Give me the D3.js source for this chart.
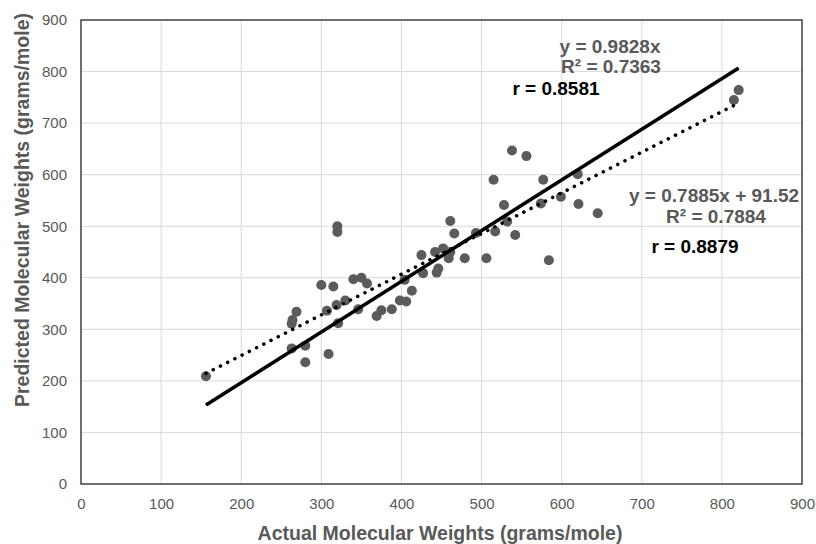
<!DOCTYPE html>
<html>
<head>
<meta charset="utf-8">
<script src="https://cdn.jsdelivr.net/npm/d3@7"></script>
<style>
  body { margin: 0; background: #fff; }
  svg { display: block; font-family: "Liberation Sans", Arial, sans-serif; }
</style>
</head>
<body>
<svg width="816" height="544"></svg>
<script>
// actual vs predicted molecular weights (grams/mole)
var actualMW = [156, 263, 264, 269, 263, 280, 280, 309, 307, 319, 321, 330, 300, 315,
                320, 320, 340, 350, 357, 346, 369, 375, 388, 398, 406, 413, 404, 425,
                442, 452, 461, 459, 479, 506, 584, 427, 446, 444, 466, 461, 493, 517,
                542, 532, 528, 515, 538, 556, 577, 574, 599, 620, 621, 645, 815, 821];
var predictedMW = [209, 311, 318, 334, 263, 268, 236, 252, 336, 347, 312, 356, 386, 383,
                   489, 500, 397, 400, 389, 339, 326, 337, 339, 356, 354, 375, 396, 444,
                   450, 457, 450, 438, 438, 438, 434, 409, 418, 410, 486, 510, 487, 490,
                   483, 509, 541, 590, 647, 636, 590, 544, 557, 601, 543, 525, 745, 764];

var xTicks = [0, 100, 200, 300, 400, 500, 600, 700, 800, 900];
var yTicks = [0, 100, 200, 300, 400, 500, 600, 700, 800, 900];

// trend lines: [slope, intercept]
var fitThroughZero = [0.9828, 0];
var fitLinear = [0.7885, 91.52];
var labelsZero = ['y = 0.9828x', 'R\u00b2 = 0.7363', 'r = 0.8581'];
var labelsLinear = ['y = 0.7885x + 91.52', 'R\u00b2 = 0.7884', 'r = 0.8879'];

var grey = '#595959';
// note: "top" is taken by window.top, so plot edges get their own names
var plotL = 81, plotR = 802, plotT = 20, plotB = 484;

var svg = d3.select('svg');

var x = d3.scaleLinear().domain([0, 900]).range([plotL, plotR]);
var y = d3.scaleLinear().domain([0, 900]).range([plotB, plotT]);

// gridlines
svg.append('g')
   .selectAll('line')
   .data(xTicks.slice(1, -1))
   .enter()
   .append('line')
      .attr('x1', function(d){return x(d)})
      .attr('x2', function(d){return x(d)})
      .attr('y1', plotT)
      .attr('y2', plotB)
      .style('stroke', '#d9d9d9')
      .style('stroke-width', 1);

svg.append('g')
   .selectAll('line')
   .data(yTicks.slice(1, -1))
   .enter()
   .append('line')
      .attr('x1', plotL)
      .attr('x2', plotR)
      .attr('y1', function(d){return y(d)})
      .attr('y2', function(d){return y(d)})
      .style('stroke', '#d9d9d9')
      .style('stroke-width', 1);

// axes (labels only, frame drawn later)
var xAxis = svg.append('g')
   .attr('transform', 'translate(0,' + plotB + ')')
   .call(d3.axisBottom(x).tickValues(xTicks).tickSize(0).tickPadding(14));
var yAxis = svg.append('g')
   .attr('transform', 'translate(' + plotL + ',0)')
   .call(d3.axisLeft(y).tickValues(yTicks).tickSize(0).tickPadding(14));

[xAxis, yAxis].forEach(function(a) {
   a.select('.domain').remove();
   a.selectAll('text')
      .style('font-family', '"Liberation Sans", Arial, sans-serif')
      .style('font-size', '15px')
      .style('fill', grey);
});

// points
svg.append('g')
   .selectAll('circle')
   .data(actualMW)
   .enter()
   .append('circle')
      .attr('cx', function(d){return x(d)})
      .attr('cy', function(d, i){return y(predictedMW[i])})
      .attr('r', 5)
      .style('fill', '#5b5b5b');

// trend lines over the data range
var ext = d3.extent(actualMW);
var line = d3.line()
   .x(function(d){return x(d[0])})
   .y(function(d){return y(d[1])});

function fitPoints(f) {
   return ext.map(function(v){return [v, f[0] * v + f[1]]});
}

svg.append('path')
   .datum(fitPoints(fitLinear))
   .attr('d', line)
   .style('fill', 'none')
   .style('stroke', '#000')
   .style('stroke-width', 3.5)
   .style('stroke-linecap', 'round')
   .style('stroke-dasharray', '0.1 8');

svg.append('path')
   .datum(fitPoints(fitThroughZero))
   .attr('d', line)
   .style('fill', 'none')
   .style('stroke', '#000')
   .style('stroke-width', 3.5);

// labels, clipped to the plot area like the original
svg.append('clipPath')
   .attr('id', 'plotclip')
   .append('rect')
      .attr('x', plotL)
      .attr('y', plotT)
      .attr('width', plotR - plotL)
      .attr('height', plotB - plotT);

var notes = svg.append('g')
   .attr('clip-path', 'url(#plotclip)')
   .style('font-size', '19px')
   .style('font-weight', 'bold');

notes.append('text').attr('x', 610).attr('y', 53).attr('text-anchor', 'middle')
   .style('fill', grey).text(labelsZero[0]);
notes.append('text').attr('x', 611).attr('y', 73).attr('text-anchor', 'middle')
   .style('fill', grey).text(labelsZero[1]);
notes.append('text').attr('x', 556).attr('y', 95).attr('text-anchor', 'middle')
   .style('fill', '#000').text(labelsZero[2]);

notes.append('text').attr('x', 629).attr('y', 202).attr('text-anchor', 'start')
   .style('fill', grey).text(labelsLinear[0]);
notes.append('text').attr('x', 716).attr('y', 223).attr('text-anchor', 'middle')
   .style('fill', grey).text(labelsLinear[1]);
notes.append('text').attr('x', 695).attr('y', 253).attr('text-anchor', 'middle')
   .style('fill', '#000').text(labelsLinear[2]);

// plot frame
svg.append('rect')
   .attr('x', plotL)
   .attr('y', plotT)
   .attr('width', plotR - plotL)
   .attr('height', plotB - plotT)
   .style('fill', 'none')
   .style('stroke', '#404040')
   .style('stroke-width', 1.5);

// axis titles
svg.append('text')
   .attr('x', 440)
   .attr('y', 540)
   .attr('text-anchor', 'middle')
   .style('font-size', '19.5px')
   .style('font-weight', 'bold')
   .style('fill', grey)
   .text('Actual Molecular Weights (grams/mole)');

svg.append('text')
   .attr('transform', 'translate(29,210) rotate(-90)')
   .attr('text-anchor', 'middle')
   .style('font-size', '19.5px')
   .style('font-weight', 'bold')
   .style('fill', grey)
   .text('Predicted Molecular Weights (grams/mole)');
</script>
</body>
</html>
